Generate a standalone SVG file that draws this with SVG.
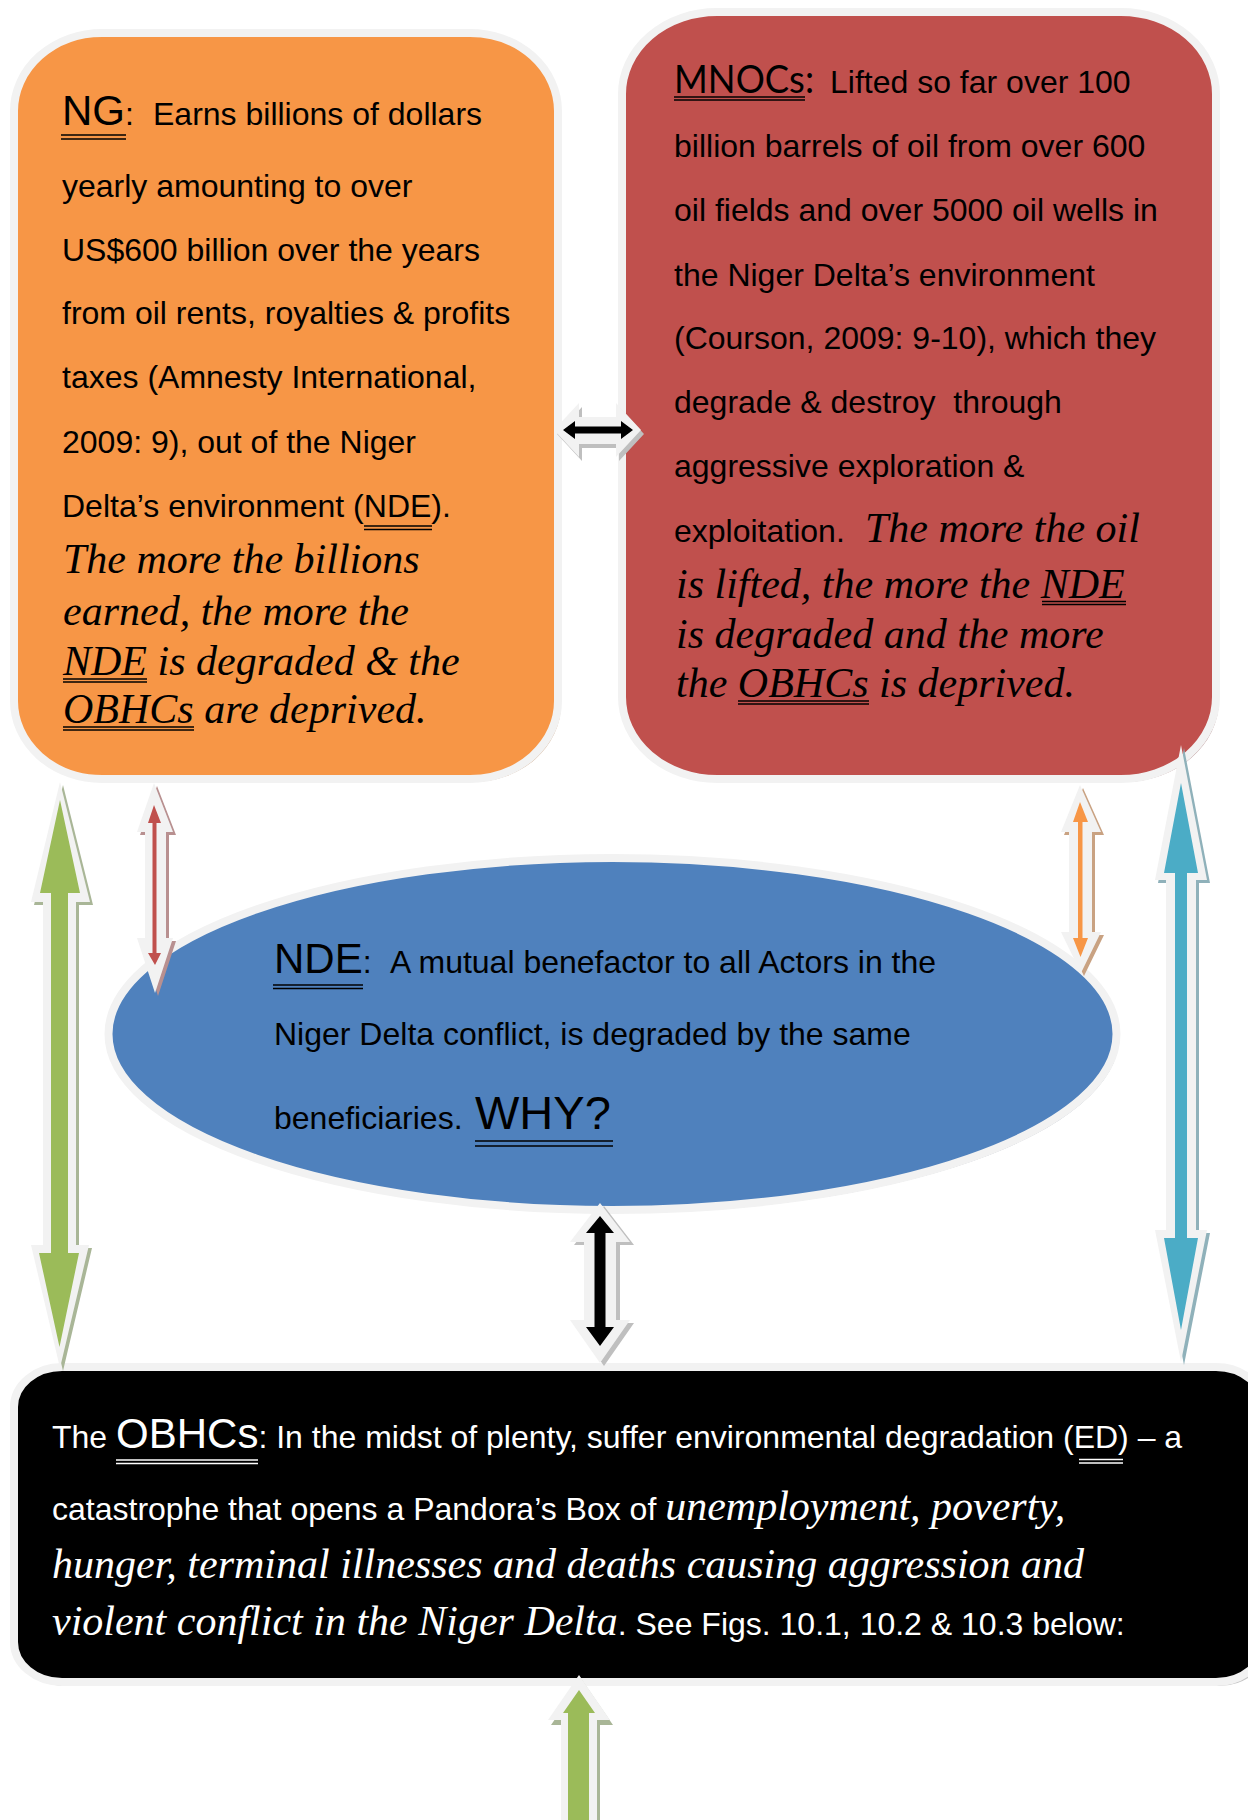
<svg xmlns="http://www.w3.org/2000/svg" width="1248" height="1820" viewBox="0 0 1248 1820">
<style>
.t{font-family:"Liberation Sans",Arial,sans-serif;font-size:32px;fill:#000}
.w{fill:#fff}
.i{font-family:"Liberation Serif","Times New Roman",serif;font-style:italic;font-size:42px}
.big{font-size:42px}
.why{font-size:47px}
.mn{font-family:Lato,"Open Sans",sans-serif;font-size:39px}
.ul{stroke:#000;stroke-width:1.6}
.ulw{stroke:#fff;stroke-width:1.6}
.edge{stroke:#f2f2f2;stroke-width:8}
.halo{fill:#f2f2f2}
</style>
<rect width="1248" height="1820" fill="#fff"/>

<g id="ng">
<rect x="17" y="36" width="544" height="746" rx="88" ry="78" fill="#cfab8e"/>
<rect x="14" y="33" width="544" height="746" rx="88" ry="78" fill="#f79646" class="edge"/>
<text class="t" x="62" y="125"><tspan class="big">NG</tspan>:</text>
<text class="t" x="153" y="125">Earns billions of dollars</text>
<line class="ul" x1="61" y1="135" x2="126" y2="135"/><line class="ul" x1="61" y1="139" x2="126" y2="139"/>
<text class="t" x="62" y="197">yearly amounting to over</text>
<text class="t" x="62" y="261">US$600 billion over the years</text>
<text class="t" x="62" y="324">from oil rents, royalties &amp; profits</text>
<text class="t" x="62" y="388">taxes (Amnesty International,</text>
<text class="t" x="62" y="453">2009: 9), out of the Niger</text>
<text class="t" x="62" y="517">Delta’s environment (NDE).</text>
<line class="ul" x1="364" y1="526" x2="432" y2="526"/><line class="ul" x1="364" y1="529.5" x2="432" y2="529.5"/>
<text class="t i" x="63" y="573">The more the billions</text>
<text class="t i" x="63" y="625">earned, the more the</text>
<text class="t i" x="63" y="675">NDE is degraded &amp; the</text>
<line class="ul" x1="63" y1="679" x2="147" y2="679"/><line class="ul" x1="63" y1="682" x2="147" y2="682"/>
<text class="t i" x="63" y="723">OBHCs are deprived.</text>
<line class="ul" x1="63" y1="727" x2="194" y2="727"/><line class="ul" x1="63" y1="730" x2="194" y2="730"/>
</g>

<g id="mnocs">
<rect x="625" y="15" width="594" height="767" rx="95" ry="82" fill="#bb9797"/>
<rect x="622" y="12" width="594" height="767" rx="95" ry="82" fill="#c0504d" class="edge"/>
<text class="mn" x="674" y="93" textLength="140" lengthAdjust="spacingAndGlyphs">MNOCs:</text>
<line class="ul" x1="674" y1="97" x2="805" y2="97"/><line class="ul" x1="674" y1="100" x2="805" y2="100"/>
<text class="t" x="830" y="93">Lifted so far over 100</text>
<text class="t" x="674" y="157">billion barrels of oil from over 600</text>
<text class="t" x="674" y="221">oil fields and over 5000 oil wells in</text>
<text class="t" x="674" y="286">the Niger Delta’s environment</text>
<text class="t" x="674" y="349">(Courson, 2009: 9-10), which they</text>
<text class="t" x="674" y="413" xml:space="preserve">degrade &amp; destroy  through</text>
<text class="t" x="674" y="477">aggressive exploration &amp;</text>
<text class="t" x="674" y="542">exploitation.</text>
<text class="t i" x="865" y="542">The more the oil</text>
<text class="t i" x="676" y="598">is lifted, the more the NDE</text>
<line class="ul" x1="1042" y1="601.5" x2="1126" y2="601.5"/><line class="ul" x1="1042" y1="604.5" x2="1126" y2="604.5"/>
<text class="t i" x="676" y="648">is degraded and the more</text>
<text class="t i" x="676" y="697">the OBHCs is deprived.</text>
<line class="ul" x1="738" y1="701" x2="869" y2="701"/><line class="ul" x1="738" y1="704" x2="869" y2="704"/>
</g>

<g id="nde">
<ellipse cx="615" cy="1037" rx="504" ry="176" fill="#9aa4b4"/>
<ellipse cx="612.5" cy="1034" rx="504" ry="176" fill="#4f81bd" class="edge"/>
<text class="t" x="274" y="973"><tspan class="big">NDE</tspan>:</text>
<text class="t" x="390" y="973">A mutual benefactor to all Actors in the</text>
<line class="ul" x1="273" y1="985" x2="363" y2="985"/><line class="ul" x1="273" y1="988.5" x2="363" y2="988.5"/>
<text class="t" x="274" y="1045">Niger Delta conflict, is degraded by the same</text>
<text class="t" x="274" y="1129">beneficiaries.</text>
<text class="t why" x="475" y="1129">WHY?</text>
<line class="ul" x1="475" y1="1141" x2="613" y2="1141" stroke-width="2"/><line class="ul" x1="475" y1="1146" x2="613" y2="1146" stroke-width="2"/>
</g>

<g id="obhcs">
<rect x="17" y="1371" width="1250" height="315" rx="48" ry="40" fill="#c4c4c4"/>
<rect x="14" y="1367" width="1250" height="315" rx="48" ry="40" fill="#000" class="edge"/>
<text class="t w" x="52" y="1448">The <tspan class="big">OBHCs</tspan>: In the midst of plenty, suffer environmental degradation (ED) – a</text>
<line class="ulw" x1="116" y1="1460" x2="258" y2="1460"/><line class="ulw" x1="116" y1="1463.5" x2="258" y2="1463.5"/>
<line class="ulw" x1="1079" y1="1459.5" x2="1123" y2="1459.5"/><line class="ulw" x1="1079" y1="1463" x2="1123" y2="1463"/>
<text class="t w" x="52" y="1520">catastrophe that opens a Pandora’s Box of <tspan class="i">unemployment, poverty,</tspan></text>
<text class="t i w" x="52" y="1578">hunger, terminal illnesses and deaths causing aggression and</text>
<text class="t w" x="52" y="1635"><tspan class="i">violent conflict in the Niger Delta</tspan>. See Figs. 10.1, 10.2 &amp; 10.3 below:</text>
</g>

<g id="connectors">
<!-- NG <-> MNOCs (black horizontal) -->
<g>
<polygon fill="#bfbfbf" transform="translate(3,4)" points="554,430 579,403 579,417 616,417 616,403 641,430 616,457 616,444 579,444 579,457"/>
<polygon class="halo" points="554,430 579,403 579,417 616,417 616,403 641,430 616,457 616,444 579,444 579,457"/>
<polygon fill="#000" points="563,430 575,421 575,426.5 621,426.5 621,421 633,430 621,439 621,433.5 575,433.5 575,439"/>
</g>
<!-- NDE <-> OBHCs (black vertical) -->
<g>
<polygon fill="#bfbfbf" transform="translate(4,3)" points="600,1203 630,1242 616,1242 616,1320 630,1320 600,1363 570,1320 584,1320 584,1242 570,1242"/>
<polygon class="halo" points="600,1203 630,1242 616,1242 616,1320 630,1320 600,1363 570,1320 584,1320 584,1242 570,1242"/>
<polygon fill="#000" points="600,1216 614,1233 605.5,1233 605.5,1327 614,1327 600,1346 586,1327 594.5,1327 594.5,1233 586,1233"/>
</g>
<!-- NG <-> OBHCs (green left) -->
<g>
<polygon fill="#a9b697" transform="translate(3,3)" points="60,782 90,902 76,902 76,1245 89,1245 60,1368 31,1245 43,1245 43,902 31,902"/>
<polygon class="halo" points="60,782 90,902 76,902 76,1245 89,1245 60,1368 31,1245 43,1245 43,902 31,902"/>
<polygon fill="#9bbb59" points="60,800 80,893 68,893 68,1253 79,1253 59.5,1347 39,1253 51,1253 51,893 40,893"/>
</g>
<!-- MNOCs <-> OBHCs (cyan right) -->
<g>
<polygon fill="#8fb1ba" transform="translate(3,3)" points="1181,745 1207,880 1196,880 1196,1230 1207,1230 1181,1362 1155,1230 1166,1230 1166,880 1155,880"/>
<polygon class="halo" points="1181,745 1207,880 1196,880 1196,1230 1207,1230 1181,1362 1155,1230 1166,1230 1166,880 1155,880"/>
<polygon fill="#4bacc6" points="1181,783 1198,873 1187,873 1187,1238 1198,1238 1181,1330 1164,1238 1175,1238 1175,873 1164,873"/>
</g>
<!-- NG <-> NDE (red small) -->
<g>
<polygon fill="#b89090" transform="translate(3,3)" points="154,783 173,832 166,832 166,938 173,938 155,993 137,938 145,938 145,832 137,832"/>
<polygon class="halo" points="154,783 173,832 166,832 166,938 173,938 155,993 137,938 145,938 145,832 137,832"/>
<polygon fill="#c0504d" points="154,805 161,823 156.5,823 156.5,953 161,953 155,965 148,953 152.5,953 152.5,823 148,823"/>
</g>
<!-- MNOCs <-> NDE (orange small) -->
<g>
<polygon fill="#c9a282" transform="translate(3,3)" points="1080,785 1101,832 1092,832 1092,932 1101,932 1081,973 1061,932 1069,932 1069,832 1061,832"/>
<polygon class="halo" points="1080,785 1101,832 1092,832 1092,932 1101,932 1081,973 1061,932 1069,932 1069,832 1061,832"/>
<polygon fill="#f79646" points="1080,802 1088,822 1082.5,822 1082.5,938 1088,938 1080.5,957 1073,938 1078,938 1078,822 1073,822"/>
</g>
<!-- up arrow into OBHCs (green bottom) -->
<g>
<polygon fill="#a9b697" transform="translate(3,5)" points="579,1675 610,1720 597,1720 597,1830 561,1830 561,1720 548,1720"/>
<polygon class="halo" points="579,1675 610,1720 597,1720 597,1830 561,1830 561,1720 548,1720"/>
<polygon fill="#9bbb59" points="579,1690 595,1713 589,1713 589,1830 568,1830 568,1713 563,1713"/>
</g>
</g>
</svg>
